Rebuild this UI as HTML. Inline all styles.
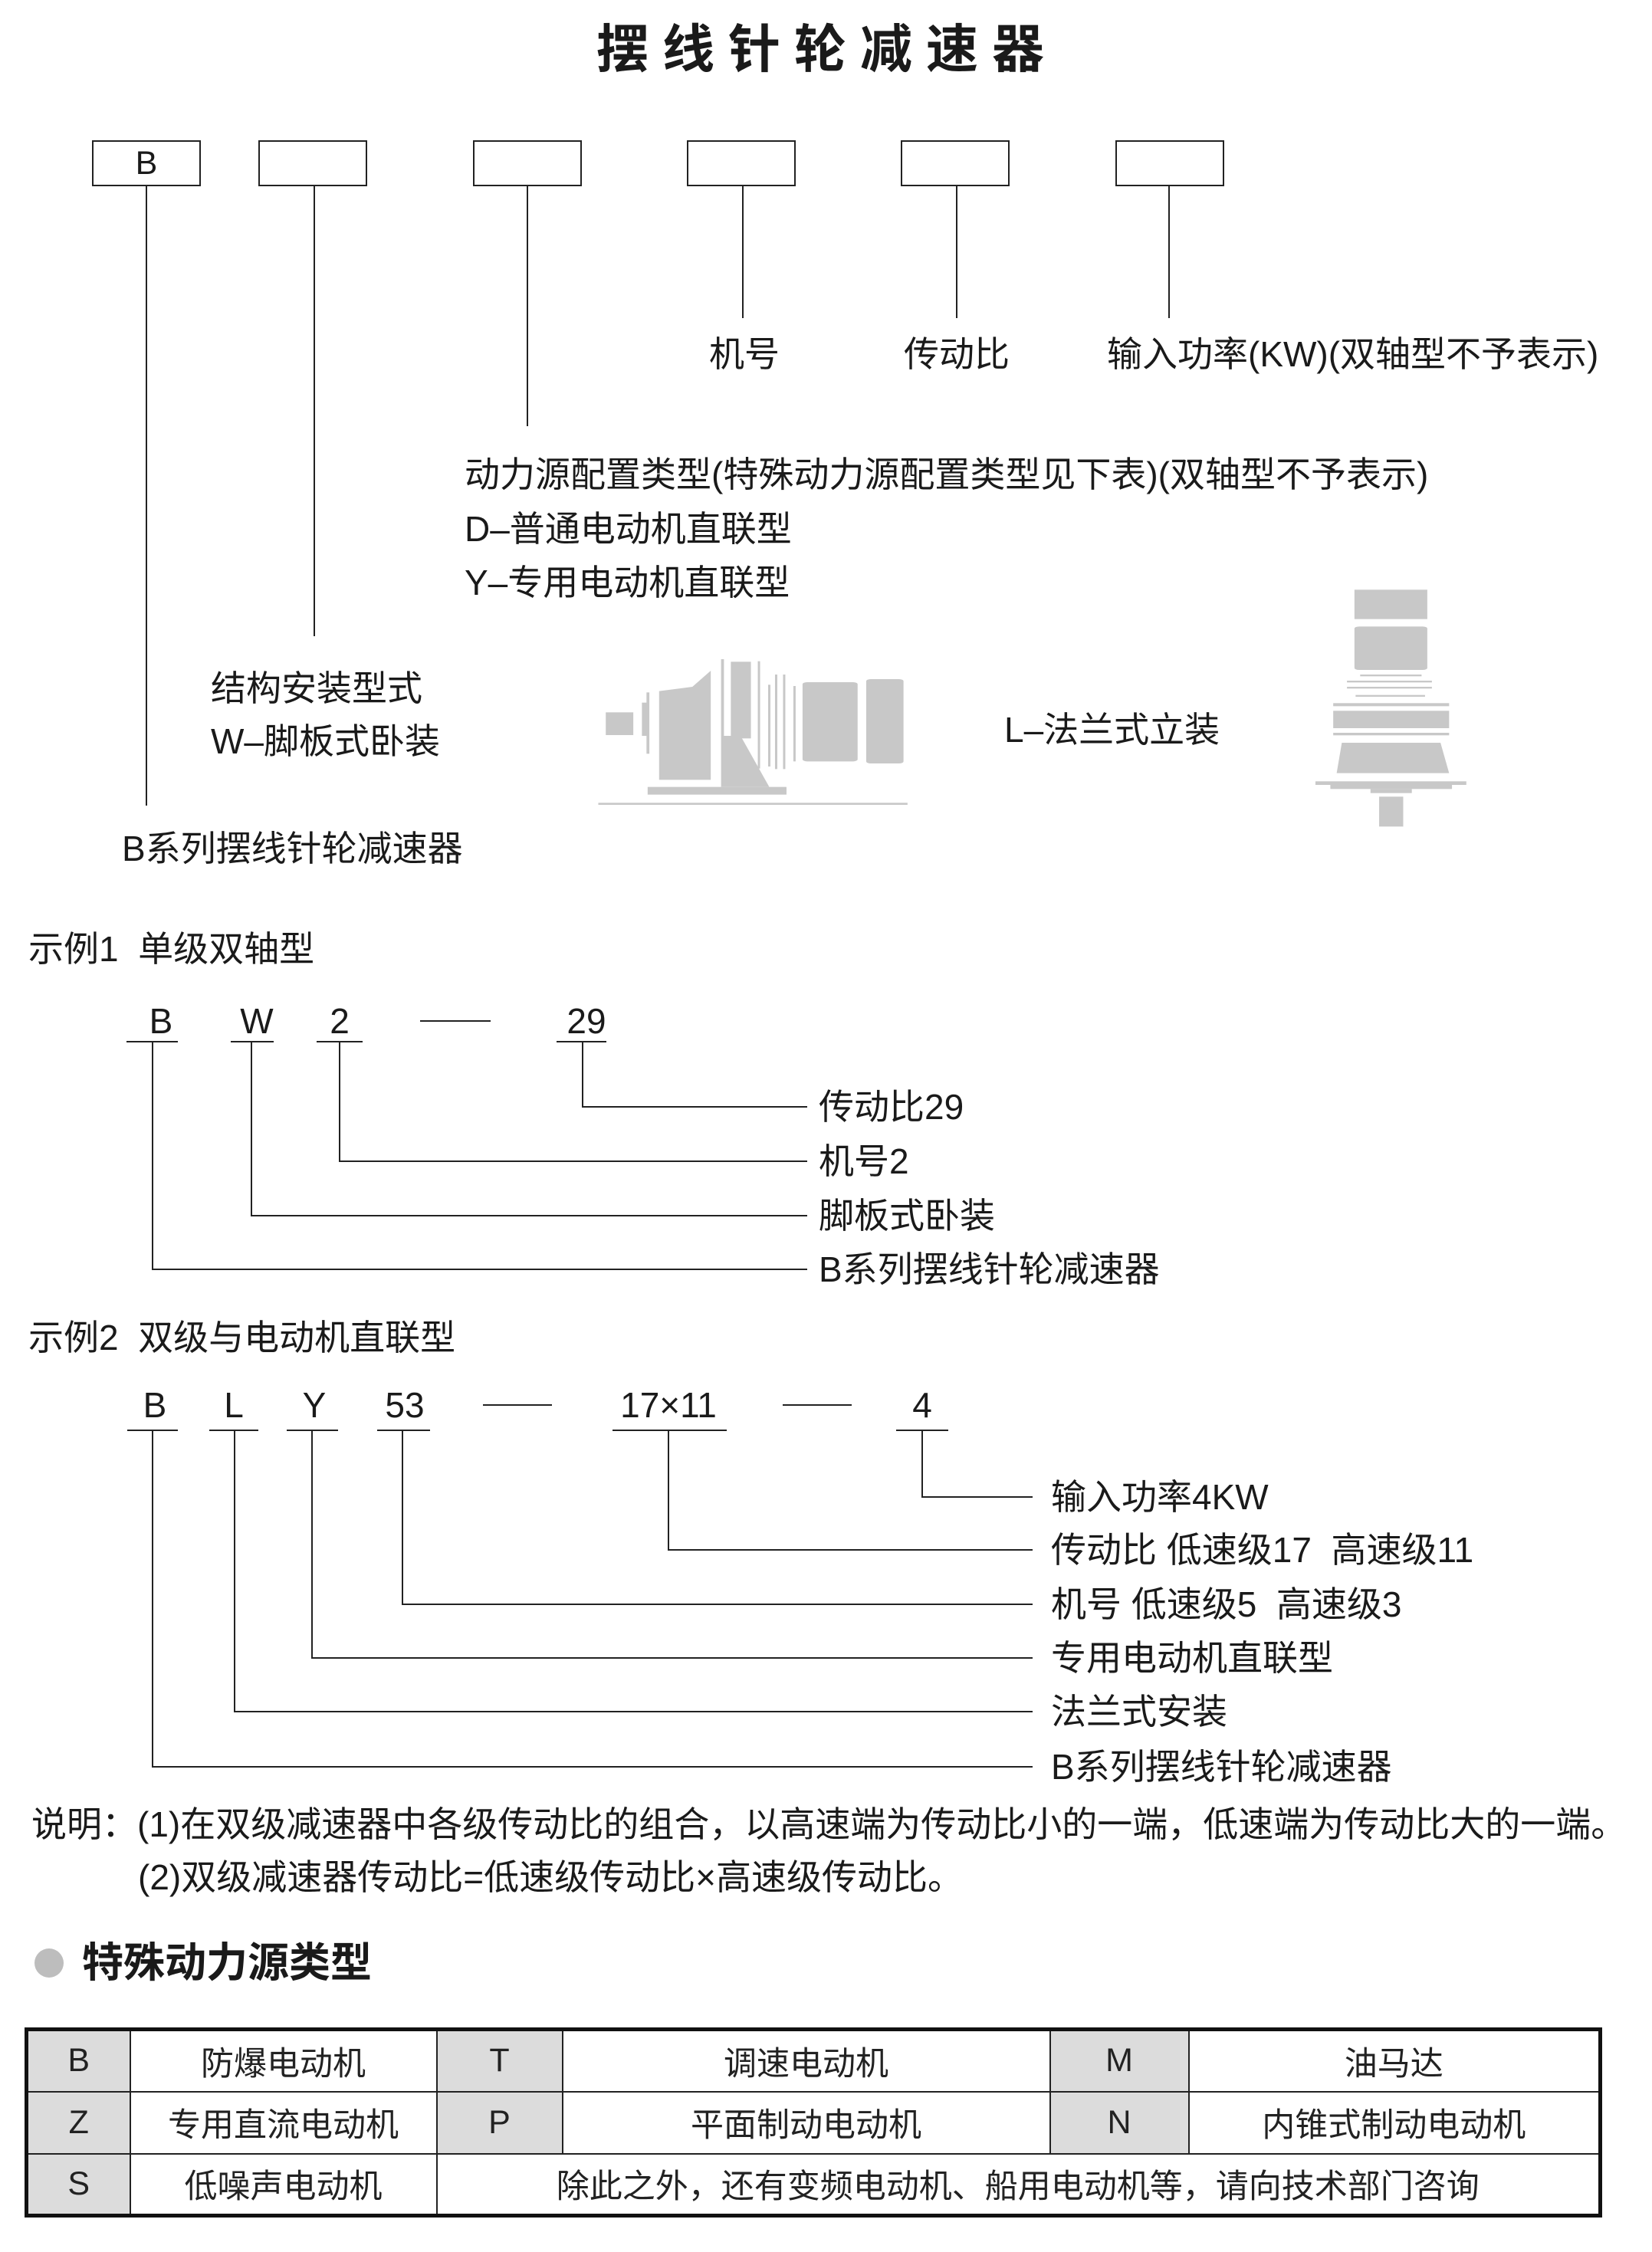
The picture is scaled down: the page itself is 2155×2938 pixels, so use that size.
<!DOCTYPE html>
<html><head><meta charset="utf-8">
<style>
*{margin:0;padding:0;box-sizing:border-box}
body{width:2155px;height:2938px;background:#fff;position:relative;overflow:hidden;font-family:"Liberation Sans","Noto Sans CJK SC",sans-serif;color:#1a1a1a}
.t{position:absolute;font-size:46px;line-height:43px;white-space:nowrap}
.c{transform:translateX(-50%)}
.box{position:absolute;top:183px;width:142px;height:60px;border:2px solid #222}
.v{position:absolute;width:2px;background:#222}
.h{position:absolute;height:2px;background:#222}
table{position:absolute;left:32px;top:2645px;width:2058px;height:246px;border-collapse:collapse;border:5px solid #111;table-layout:fixed}
td{border:2px solid #222;text-align:center;font-size:43px;color:#222;height:81px}
td.g{background:#dcdcdc}
</style></head><body>
<div class="t c" style="left:1079px;top:30px;font-size:68px;line-height:70px;font-weight:bold;letter-spacing:18px">摆线针轮减速器</div>

<div class="box" style="left:120px"><div class="t c" style="left:69px;top:7px;font-size:43px">B</div></div>
<div class="box" style="left:337px"></div>
<div class="box" style="left:617px"></div>
<div class="box" style="left:896px"></div>
<div class="box" style="left:1175px"></div>
<div class="box" style="left:1455px"></div>

<div class="v" style="left:190px;top:243px;height:808px"></div>
<div class="v" style="left:409px;top:243px;height:587px"></div>
<div class="v" style="left:687px;top:243px;height:313px"></div>
<div class="v" style="left:968px;top:243px;height:172px"></div>
<div class="v" style="left:1247px;top:243px;height:172px"></div>
<div class="v" style="left:1524px;top:243px;height:172px"></div>

<div class="t c" style="left:971px;top:441px">机号</div>
<div class="t c" style="left:1248px;top:441px">传动比</div>
<div class="t" style="left:1444px;top:441px">输入功率(KW)(双轴型不予表示)</div>
<div class="t" style="left:606px;top:598px">动力源配置类型(特殊动力源配置类型见下表)(双轴型不予表示)</div>
<div class="t" style="left:606px;top:669px">D–普通电动机直联型</div>
<div class="t" style="left:606px;top:739px">Y–专用电动机直联型</div>
<div class="t" style="left:275px;top:877px">结构安装型式</div>
<div class="t" style="left:275px;top:946px">W–脚板式卧装</div>
<div class="t" style="left:159px;top:1086px">B系列摆线针轮减速器</div>
<div class="t" style="left:1310px;top:931px">L–法兰式立装</div>

<svg style="position:absolute;left:770px;top:760px" width="1160" height="330" viewBox="0 0 1550 990" preserveAspectRatio="none">
<g fill="#c8c8c8">
<rect x="27" y="508" width="48" height="89"/>
<rect x="90" y="470" width="10" height="130"/>
<rect x="98" y="430" width="5" height="240"/>
<polygon points="120,425 178,408 210,345 210,772 120,772"/>
<rect x="228" y="300" width="5" height="500"/>
<rect x="245" y="310" width="35" height="300"/>
<polygon points="232,600 262,600 312,800 232,800"/>
<rect x="100" y="800" width="242" height="30"/>
<rect x="14" y="862" width="539" height="8"/>
<rect x="292" y="308" width="4" height="420"/>
<rect x="310" y="400" width="4" height="320"/>
<rect x="322" y="360" width="4" height="370"/>
<rect x="336" y="360" width="4" height="370"/>
<rect x="354" y="405" width="4" height="295"/>
<rect x="370" y="390" width="96" height="310" rx="8"/>
<rect x="481" y="378" width="65" height="330" rx="8"/>
<rect x="1332" y="28" width="127" height="115"/>
<rect x="1332" y="172" width="127" height="170" rx="8"/>
<rect x="1342" y="360" width="107" height="7"/>
<rect x="1319" y="384" width="148" height="7"/>
<rect x="1319" y="408" width="148" height="7"/>
<rect x="1334" y="440" width="121" height="7"/>
<rect x="1295" y="472" width="202" height="12"/>
<rect x="1295" y="502" width="202" height="68"/>
<rect x="1295" y="588" width="202" height="10"/>
<polygon points="1310,627 1482,627 1497,746 1301,746"/>
<rect x="1264" y="778" width="263" height="14"/>
<rect x="1290" y="792" width="212" height="16"/>
<rect x="1360" y="808" width="72" height="16"/>
<rect x="1375" y="838" width="42" height="117"/>
</g></svg>

<div class="t" style="left:37px;top:1217px">示例1&nbsp; 单级双轴型</div>
<div class="t c" style="left:210px;top:1311px">B</div>
<div class="t c" style="left:335px;top:1311px">W</div>
<div class="t c" style="left:443px;top:1311px">2</div>
<div class="h" style="left:548px;top:1331px;width:92px"></div>
<div class="t c" style="left:765px;top:1311px">29</div>
<div class="h" style="left:165px;top:1358px;width:67px"></div>
<div class="h" style="left:301px;top:1358px;width:56px"></div>
<div class="h" style="left:413px;top:1358px;width:60px"></div>
<div class="h" style="left:726px;top:1358px;width:65px"></div>
<div class="v" style="left:198px;top:1358px;height:299px"></div>
<div class="v" style="left:327px;top:1358px;height:229px"></div>
<div class="v" style="left:442px;top:1358px;height:158px"></div>
<div class="v" style="left:759px;top:1358px;height:87px"></div>
<div class="h" style="left:759px;top:1443px;width:294px"></div>
<div class="h" style="left:442px;top:1514px;width:611px"></div>
<div class="h" style="left:327px;top:1585px;width:726px"></div>
<div class="h" style="left:198px;top:1655px;width:855px"></div>
<div class="t" style="left:1068px;top:1423px">传动比29</div>
<div class="t" style="left:1068px;top:1494px">机号2</div>
<div class="t" style="left:1068px;top:1565px">脚板式卧装</div>
<div class="t" style="left:1068px;top:1635px">B系列摆线针轮减速器</div>

<div class="t" style="left:37px;top:1724px">示例2&nbsp; 双级与电动机直联型</div>
<div class="t c" style="left:202px;top:1812px">B</div>
<div class="t c" style="left:305px;top:1812px">L</div>
<div class="t c" style="left:410px;top:1812px">Y</div>
<div class="t c" style="left:528px;top:1812px">53</div>
<div class="h" style="left:630px;top:1832px;width:90px"></div>
<div class="t c" style="left:872px;top:1812px">17×11</div>
<div class="h" style="left:1021px;top:1832px;width:90px"></div>
<div class="t c" style="left:1203px;top:1812px">4</div>
<div class="h" style="left:166px;top:1865px;width:66px"></div>
<div class="h" style="left:273px;top:1865px;width:64px"></div>
<div class="h" style="left:374px;top:1865px;width:67px"></div>
<div class="h" style="left:492px;top:1865px;width:69px"></div>
<div class="h" style="left:799px;top:1865px;width:149px"></div>
<div class="h" style="left:1169px;top:1865px;width:68px"></div>
<div class="v" style="left:198px;top:1865px;height:441px"></div>
<div class="v" style="left:305px;top:1865px;height:369px"></div>
<div class="v" style="left:406px;top:1865px;height:299px"></div>
<div class="v" style="left:524px;top:1865px;height:229px"></div>
<div class="v" style="left:871px;top:1865px;height:158px"></div>
<div class="v" style="left:1202px;top:1865px;height:89px"></div>
<div class="h" style="left:1202px;top:1952px;width:145px"></div>
<div class="h" style="left:871px;top:2021px;width:476px"></div>
<div class="h" style="left:524px;top:2092px;width:823px"></div>
<div class="h" style="left:406px;top:2162px;width:941px"></div>
<div class="h" style="left:305px;top:2232px;width:1042px"></div>
<div class="h" style="left:198px;top:2304px;width:1149px"></div>
<div class="t" style="left:1371px;top:1932px">输入功率4KW</div>
<div class="t" style="left:1371px;top:2001px">传动比 低速级17&nbsp; 高速级11</div>
<div class="t" style="left:1371px;top:2072px">机号 低速级5&nbsp; 高速级3</div>
<div class="t" style="left:1371px;top:2142px">专用电动机直联型</div>
<div class="t" style="left:1371px;top:2212px">法兰式安装</div>
<div class="t" style="left:1371px;top:2284px">B系列摆线针轮减速器</div>

<div class="t" style="left:41px;top:2359px">说明：(1)在双级减速器中各级传动比的组合，以高速端为传动比小的一端，低速端为传动比大的一端。</div>
<div class="t" style="left:180px;top:2428px">(2)双级减速器传动比=低速级传动比×高速级传动比。</div>

<div style="position:absolute;left:45px;top:2542px;width:38px;height:38px;border-radius:50%;background:#bdbdbd"></div>
<div class="t" style="left:107px;top:2535px;font-size:54px;line-height:52px;font-weight:bold">特殊动力源类型</div>

<table>
<colgroup><col style="width:135px"><col style="width:400px"><col style="width:164px"><col style="width:636px"><col style="width:181px"><col></colgroup>
<tr><td class="g">B</td><td>防爆电动机</td><td class="g">T</td><td>调速电动机</td><td class="g">M</td><td>油马达</td></tr>
<tr><td class="g">Z</td><td>专用直流电动机</td><td class="g">P</td><td>平面制动电动机</td><td class="g">N</td><td>内锥式制动电动机</td></tr>
<tr><td class="g">S</td><td>低噪声电动机</td><td colspan="4">除此之外，还有变频电动机、船用电动机等，请向技术部门咨询</td></tr>
</table>
</body></html>
